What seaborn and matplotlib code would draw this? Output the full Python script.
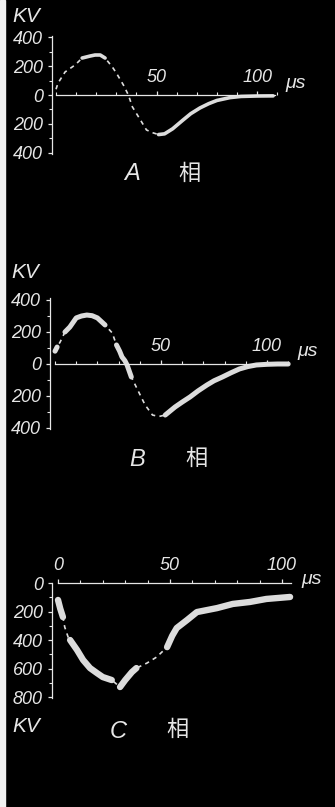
import matplotlib
matplotlib.use("Agg")
import matplotlib.pyplot as plt
from matplotlib.patches import Rectangle
from matplotlib.ticker import MultipleLocator
import numpy as np
import pandas as pd
import seaborn as sns

# ---- data (time in µs, voltage in kV) ----
A_t = [0, 1, 4.5, 9.5, 13, 17, 19.4, 22, 24.4, 28, 30, 33.5, 36, 38, 42, 45,
       48, 51, 54, 58, 63, 67, 71.6, 76, 80, 86.6, 92, 100, 108]
A_kv = [40, 83, 160, 209, 257, 271, 278, 278, 257, 195, 153, 70, 0, -83, -174, -243,
        -262, -275, -270, -235, -176, -130, -90, -60, -38, -18, -10, -7, -6]
A_bright = [(13, 24.4), (50, 108)]

B_t = [0, 1, 2.4, 4.7, 7, 10, 12.5, 15, 17.5, 20, 23.6, 27, 29, 30.5, 31.6, 33, 34,
       36, 39, 42.5, 46, 49, 52, 56.6, 60, 63.7, 67.5, 71.7, 75, 79, 83, 87, 91, 95,
       100, 105, 110]
B_kv = [80, 106, 137, 200, 231, 288, 300, 306, 302, 288, 244, 194, 119, 80, 44, 20, -6,
        -81, -162, -256, -319, -328, -319, -269, -238, -206, -168, -131, -105, -81, -55,
        -31, -16, -6, -2, 0, 0]
B_bright = [(0, 1), (4.7, 23.6), (29, 36), (52, 110)]

C_t = [0, 1, 2.2, 3, 4.5, 5.4, 8.5, 11.2, 14.3, 17.4, 20, 24, 27.7, 30, 33, 35, 39.7,
       44, 48.7, 51, 53, 57.6, 62, 66.5, 71, 78, 85.7, 93, 103.6]
C_kv = [-119, -180, -239, -309, -379, -400, -470, -540, -597, -632, -660, -681, -730,
        -681, -625, -597, -562, -520, -450, -370, -316, -260, -204, -190, -176, -147,
        -133, -112, -98]
C_bright = [(0, 2.2), (5.4, 24), (27.7, 35), (48.7, 103.6)]

AB_yticks = [-400, -200, 0, 200, 400]
AB_ylabels = ["400", "200", "0", "200", "400"]
C_yticks = [0, -200, -400, -600, -800]
C_ylabels = ["0", "200", "400", "600", "800"]
AB_xticks = [50, 100]
C_xticks = [0, 50, 100]
phase_names = ["A", "B", "C"]

W, H = 335, 807
FG = "#e6e6e6"
TRACE = "#dcdcdc"
TXT = dict(color=FG, fontstyle="italic", family=["Liberation Sans", "DejaVu Sans"])
CJK = dict(color=FG, family=["Noto Sans CJK SC", "DejaVu Sans"])

sns.set_style("ticks", rc={"axes.facecolor": "black", "figure.facecolor": "black"})
plt.rcParams["font.family"] = ["Liberation Sans", "DejaVu Sans"]


def px_box(left, top, right, bottom):
    return [left / W, 1 - bottom / H, (right - left) / W, (bottom - top) / H]


def draw_trace(ax, t, kv, bright, thick):
    df = pd.DataFrame({"t": t, "kv": kv})
    sns.lineplot(data=df, x="t", y="kv", ax=ax, color=TRACE, linewidth=1.2,
                 linestyle=(0, (2.6, 2.6)), sort=False, estimator=None)
    for a, b in bright:
        seg = df[(df["t"] >= a) & (df["t"] <= b)]
        sns.lineplot(data=seg, x="t", y="kv", ax=ax, color=TRACE, linewidth=thick,
                     sort=False, estimator=None, solid_capstyle="round",
                     solid_joinstyle="round")
    ax.set(xlabel="", ylabel="")


def style_axes(ax, xticks, yticks, ylabels, xbounds, ybounds):
    for side in ["right", "bottom"]:
        ax.spines[side].set_visible(False)
    ax.spines["top"].set_position(("data", 0))
    ax.spines["top"].set_bounds(*xbounds)
    ax.spines["left"].set_bounds(*ybounds)
    for side in ["top", "left"]:
        ax.spines[side].set_color(FG)
        ax.spines[side].set_linewidth(0.9)
    ax.xaxis.set_ticks_position("top")
    ax.set_xticks(xticks)
    ax.set_xticklabels([str(v) for v in xticks])
    ax.xaxis.set_minor_locator(MultipleLocator(10))
    ax.set_yticks(yticks)
    ax.set_yticklabels(ylabels)
    ax.yaxis.set_minor_locator(MultipleLocator(100))
    ax.tick_params(which="major", colors=FG, length=3, width=0.9, pad=3.5, labelsize=13)
    ax.tick_params(which="minor", colors=FG, length=2, width=0.8)
    for lab in ax.get_xticklabels() + ax.get_yticklabels():
        lab.set_fontstyle("italic")
        lab.set_color(FG)
    ax.grid(False)


fig = plt.figure(figsize=(W / 100, H / 100), dpi=100)
fig.add_artist(Rectangle((0, 0), 5 / W, 1, transform=fig.transFigure,
                         color="#f2f2f2", zorder=0))

# panel A
axA = fig.add_axes(px_box(52, 33, 285, 157))
draw_trace(axA, A_t, A_kv, A_bright, 2.6)
axA.set_xlim(-2.0, 113.9)
axA.set_ylim(-431, 431)
style_axes(axA, AB_xticks, AB_yticks, AB_ylabels, (0, 109), (-410, 410))

# panel B
axB = fig.add_axes(px_box(50, 292, 292, 436))
draw_trace(axB, B_t, B_kv, B_bright, 3.6)
axB.set_xlim(-2.36, 111.8)
axB.set_ylim(-450, 450)
style_axes(axB, AB_xticks, AB_yticks, AB_ylabels, (0, 110), (-405, 415))

# panel C
axC = fig.add_axes(px_box(52, 583, 296, 702))
draw_trace(axC, C_t, C_kv, C_bright, 4.6)
axC.set_xlim(-2.68, 106.25)
axC.set_ylim(-835, 0)
style_axes(axC, C_xticks, C_yticks, C_ylabels, (0, 104), (-810, 0))
for ax in [axA, axB, axC]:
    for line in ax.get_lines():
        line.set_clip_on(False)

# unit and phase labels
def ftext(x, y, s, size, **kw):
    fig.text(x / W, 1 - y / H, s, fontsize=size, ha="center", va="center", **kw)

ftext(26, 16, "KV", 15, **TXT)
ftext(296, 84, "μs", 14, **TXT)
ftext(132, 173, phase_names[0], 17, **TXT)
ftext(190, 173, "相", 16, **CJK)

ftext(25, 272, "KV", 15, **TXT)
ftext(308, 352, "μs", 14, **TXT)
ftext(137, 460, phase_names[1], 17, **TXT)
ftext(197, 458, "相", 16, **CJK)

ftext(26, 727, "KV", 15, **TXT)
ftext(312, 580, "μs", 14, **TXT)
ftext(118, 731, phase_names[2], 17, **TXT)
ftext(178, 729, "相", 16, **CJK)

fig.savefig("out.png", dpi=100, facecolor="black")
